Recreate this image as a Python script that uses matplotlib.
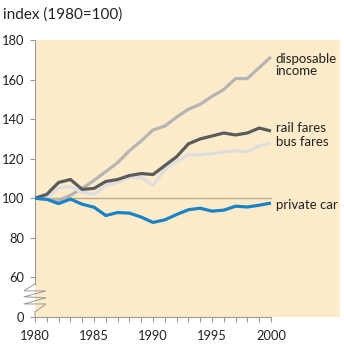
import numpy as np
import matplotlib.pyplot as plt
from matplotlib.lines import Line2D

plt.rcParams['font.family'] = ['Lato', 'DejaVu Sans']

years = np.arange(1980, 2001)

disposable_income = [100, 99.5, 99, 101.5, 105, 109, 113.5, 118, 124, 129, 134.5,
                     136.5, 141, 145, 147.5, 151.5, 155, 160.5, 160.5, 166, 171.5]
rail_fares = [100, 102, 108, 109.5, 104.5, 105, 108.5, 109.5, 111.5, 112.5, 112,
              116.5, 121, 127.5, 130, 131.5, 133, 132, 133, 135.5, 134]
bus_fares = [100, 100, 105, 106, 103, 102, 106.5, 108, 110.5, 110.5, 106.5,
             114.5, 118.5, 122, 122, 122.5, 123.5, 124, 123.5, 126.5, 128]
private_car = [100, 99.5, 97.3, 99.6, 97, 95.5, 91.3, 92.8, 92.5, 90.5, 87.8,
               89.1, 91.8, 94.2, 95, 93.5, 94, 96, 95.6, 96.5, 97.6]

ytick_vals = [40, 60, 80, 100, 120, 140, 160, 180]
ytick_labels = ['0', '60', '80', '100', '120', '140', '160', '180']

axis_grey = '#9a9a9a'

fig = plt.figure(figsize=(3.44, 3.46), dpi=100)
ax = fig.add_axes([35 / 344, 29 / 346, 305 / 344, 277 / 346])
ax.set_facecolor('#fdebc9')

# reference line at 100
ax.plot([1980, 2000], [100, 100], color='#bfa886', lw=1.0, zorder=2)

lw = 2.3
ax.plot(years, disposable_income, color='#b5b5b5', lw=lw, zorder=3, solid_capstyle='butt')
ax.plot(years, bus_fares, color='#dedede', lw=lw, zorder=3, solid_capstyle='butt')
ax.plot(years, rail_fares, color='#5b5b5b', lw=lw, zorder=4, solid_capstyle='butt')
ax.plot(years, private_car, color='#1a82c6', lw=lw, zorder=5, solid_capstyle='butt')

ax.set_xlim(1980, 2005.85)
ax.set_ylim(40, 180)

for s in ['top', 'right']:
    ax.spines[s].set_visible(False)
ax.spines['bottom'].set_bounds(1980, 2000)
ax.spines['left'].set_bounds(56.8, 180)
for s in ['bottom', 'left']:
    ax.spines[s].set_color(axis_grey)
    ax.spines[s].set_linewidth(0.8)

ax.set_xticks(np.arange(1980, 2001))
ax.set_xticklabels([str(y) if y % 5 == 0 else '' for y in years])
ax.set_yticks(ytick_vals)
ax.set_yticklabels(ytick_labels)
ax.tick_params(axis='both', colors=axis_grey, labelcolor='#222222', labelsize=9.3,
               length=3.5, width=0.8)
ax.tick_params(axis='x', pad=6)
ax.tick_params(axis='y', pad=4)

# axis break zigzag
zx = [1980, 1979.07, 1980.93, 1979.07, 1980.93, 1979.07, 1980.93, 1980, 1980]
zy = [56.8, 53.2, 53.2, 50.2, 49.7, 46.6, 46.6, 42.6, 40]
ax.add_line(Line2D(zx, zy, color=axis_grey, lw=0.7, clip_on=False, zorder=6))

label_kw = dict(fontsize=9.5, color='#222222', va='center', ha='left', linespacing=1.0)
ax.text(2000.4, 167.5, 'disposable\nincome', **label_kw)
ax.text(2000.4, 135.3, 'rail fares', **label_kw)
ax.text(2000.4, 128.6, 'bus fares', **label_kw)
ax.text(2000.4, 96.5, 'private car', **label_kw)

fig.text(3 / 344, 1 - 15 / 346, 'index (1980=100)', fontsize=11, color='#222222',
         va='center', ha='left')

fig.savefig('out.png', dpi=100)
